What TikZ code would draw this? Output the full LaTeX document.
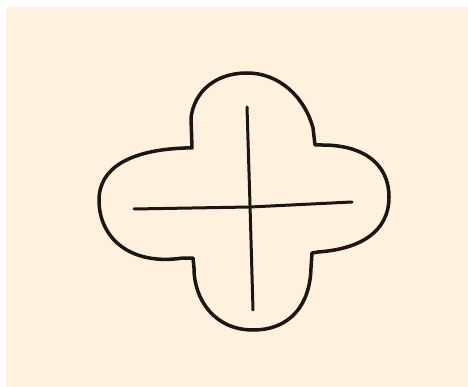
\documentclass[tikz,border=0pt]{standalone}
\usepackage{xcolor}
\definecolor{mycream}{RGB}{254,241,221}
\definecolor{myink}{RGB}{25,22,20}

\begin{document}
\begin{tikzpicture}[x=1pt,y=-1pt]
\useasboundingbox (0,0) rectangle (468,387);
\fill[white] (0,0) rectangle (468,387);
\fill[mycream] (6,7) rectangle (468,387);

%quatrefoil outline
\draw[color=myink, line width = 3.5pt, line join=round]
  (192,148) -- (191,118)
  .. controls (194,92) and (215,73) .. (247,73)
  .. controls (280,73) and (305,98) .. (313,128) -- (315,145)
  -- (322,145)
  .. controls (365,145) and (389,165) .. (389,197)
  .. controls (389,232) and (360,249) .. (318,252) -- (312,253)
  -- (311,268)
  .. controls (310,305) and (290,330) .. (253,330)
  .. controls (215,330) and (194,300) .. (194,268) -- (193,258)
  -- (183,258)
  .. controls (130,266) and (99,238) .. (99,200)
  .. controls (99,168) and (130,150) .. (185,148) -- cycle;

%cross
\draw[color=myink, line width = 3pt, line cap=round] (247,107) -- (250,205) -- (253,310);
\draw[color=myink, line width = 3pt, line cap=round] (134,209) -- (250,207) -- (352,202);
\end{tikzpicture}
\end{document}
